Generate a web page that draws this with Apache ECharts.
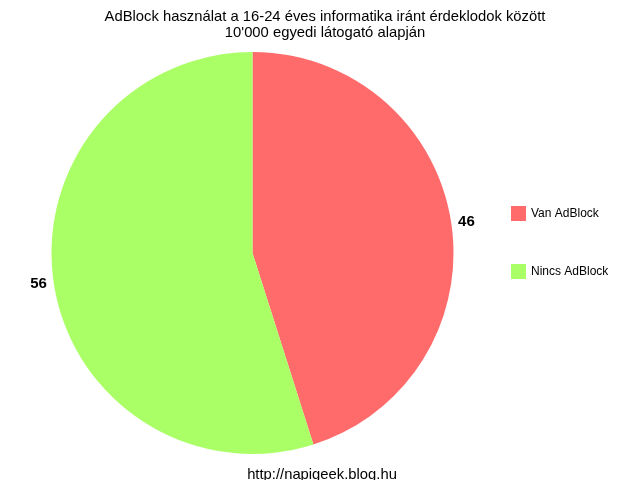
<!DOCTYPE html>
<html>
<head>
<meta charset="utf-8">
<script src="https://cdn.jsdelivr.net/npm/echarts@6/dist/echarts.min.js"></script>
<style>html,body{margin:0;padding:0;background:#fff}#c{width:640px;height:480px}</style>
</head>
<body>
<div id="c"></div>
<script>
const titleLines = ['AdBlock használat a 16-24 éves informatika iránt érdeklodok között', "10'000 egyedi látogató alapján"];
const footer = 'http://napigeek.blog.hu';
const categories = ['Van AdBlock', 'Nincs AdBlock'];
const values = [46, 56];
const colors = ['#FF6B6B', '#AAFF66'];

const chart = echarts.init(document.getElementById('c'), null, {renderer: 'canvas'});
chart.setOption({
  backgroundColor: '#ffffff',
  animation: false,
  title: [
    {
      text: titleLines.join('\n'),
      left: 320, top: 4, textAlign: 'center',
      textStyle: {fontFamily: 'Liberation Sans, Arial, sans-serif', fontSize: 14.8, fontWeight: 'normal', color: '#000', lineHeight: 16}
    },
    {
      text: footer,
      left: 317, top: 462, textAlign: 'center',
      textStyle: {fontFamily: 'Liberation Sans, Arial, sans-serif', fontSize: 14.8, fontWeight: 'normal', color: '#000'}
    }
  ],
  legend: {
    orient: 'vertical',
    left: 506, top: 201,
    itemWidth: 15, itemHeight: 15, itemGap: 43,
    icon: 'rect',
    data: categories,
    textStyle: {fontFamily: 'Liberation Sans, Arial, sans-serif', fontSize: 12, color: '#000'}
  },
  series: [{
    type: 'pie',
    center: [252.5, 253],
    radius: 201,
    startAngle: 90,
    clockwise: true,
    avoidLabelOverlap: false,
    data: categories.map((n, i) => ({name: n, value: values[i], itemStyle: {color: colors[i]}})),
    label: {
      show: true,
      position: 'outside',
      formatter: '{c}',
      fontFamily: 'Liberation Sans, Arial, sans-serif',
      fontSize: 15, fontWeight: 'bold', color: '#000',
      distanceToLabelLine: 5
    },
    labelLine: {show: false, length: 2, length2: 0},
    emphasis: {disabled: true}
  }]
});
</script>
</body>
</html>
